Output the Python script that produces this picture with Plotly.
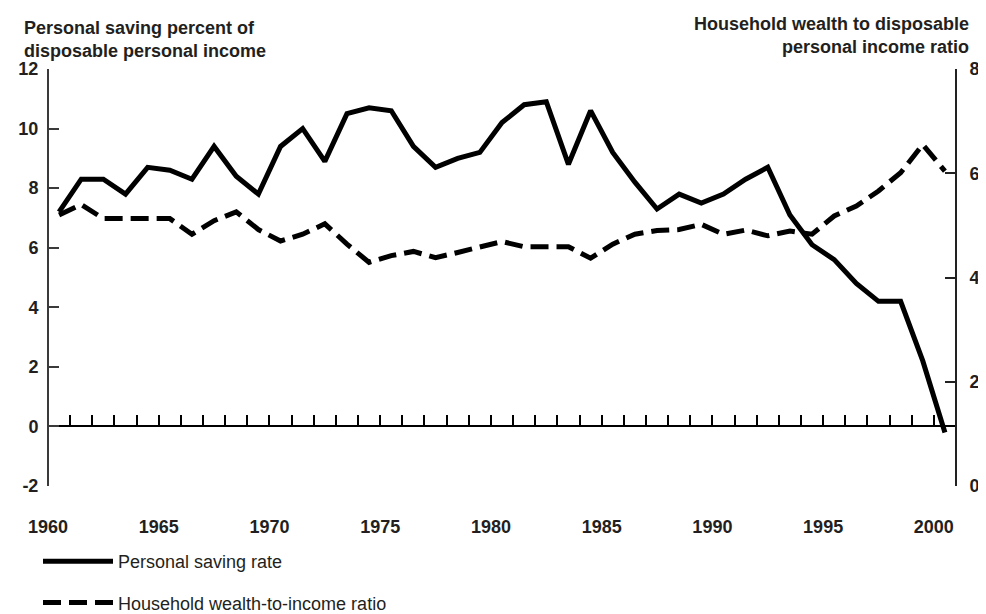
import numpy as np
import plotly.graph_objects as go

years = list(range(1960, 2001))
saving_rate = [7.2, 8.3, 8.3, 7.8, 8.7, 8.6, 8.3, 9.4, 8.4, 7.8,
               9.4, 10.0, 8.9, 10.5, 10.7, 10.6, 9.4, 8.7, 9.0, 9.2,
               10.2, 10.8, 10.9, 8.8, 10.6, 9.2, 8.2, 7.3, 7.8, 7.5,
               7.8, 8.3, 8.7, 7.1, 6.1, 5.6, 4.8, 4.2, 4.2, 2.2, -0.2]
wealth_ratio = [5.2, 5.4, 5.13, 5.13, 5.13, 5.13, 4.83, 5.09, 5.26, 4.92,
                4.70, 4.83, 5.03, 4.64, 4.29, 4.42, 4.50, 4.38, 4.48, 4.59,
                4.69, 4.59, 4.59, 4.59, 4.37, 4.64, 4.83, 4.90, 4.92, 5.02,
                4.83, 4.91, 4.80, 4.89, 4.83, 5.18, 5.37, 5.66, 6.01, 6.55, 6.04]
year_labels = [1960, 1965, 1970, 1975, 1980, 1985, 1990, 1995, 2000]
left_ticks = [-2, 0, 2, 4, 6, 8, 10, 12]
left_tick_text = ['-2', '0', '2', '4', '6', '8', '10', '12']
right_ticks = [0, 2, 4, 6, 8]

W, H = 986, 614
ML, MR, MT, MB = 40, 38, 61, 136
TXT = '#231f20'
FONT = 'Liberation Sans, Arial, sans-serif'

x_mid = np.array(years) + 0.5  # annual values plotted at mid-year

fig = go.Figure()
fig.add_trace(go.Scatter(x=x_mid, y=saving_rate, mode='lines', name='Personal saving rate',
                         line=dict(color='black', width=5), legendgroup='a',
                         xaxis='x', yaxis='y'))
fig.add_trace(go.Scatter(x=x_mid, y=wealth_ratio, mode='lines', name='Household wealth-to-income ratio',
                         line=dict(color='black', width=5, dash='18px,8px'), legendgroup='b',
                         xaxis='x2', yaxis='y2'))

xr = [1960, 2001]
fig.update_layout(
    width=W, height=H,
    margin=dict(l=ML, r=MR, t=MT, b=MB, autoexpand=False),
    paper_bgcolor='white', plot_bgcolor='white',
    font=dict(family=FONT, color=TXT, size=18),
    showlegend=True,
    legend=dict(xref='container', yref='container', x=30 / W, y=1 - 535 / H,
                xanchor='left', yanchor='top', font=dict(size=18, color=TXT),
                itemwidth=70, tracegroupgap=15, bgcolor='rgba(0,0,0,0)'),
    # zero line with yearly ticks
    xaxis=dict(range=xr, anchor='free', position=2 / 14, side='bottom',
               showgrid=False, zeroline=False, showline=True, linecolor='black', linewidth=2,
               ticks='inside', ticklen=10, tickwidth=1.5, tickcolor='black',
               tick0=1960, dtick=1, showticklabels=False),
    # year labels along the bottom
    xaxis2=dict(range=xr, overlaying='x', anchor='y2', side='bottom',
                showgrid=False, zeroline=False, showline=False,
                tickvals=year_labels, ticks='outside', ticklen=24, tickcolor='rgba(0,0,0,0)',
                tickfont=dict(size=18, weight='bold', color=TXT)),
    yaxis=dict(range=[-2, 12], tickvals=left_ticks, ticktext=left_tick_text,
               anchor='free', position=0, side='left',
               showgrid=False, zeroline=False,
               showline=True, linecolor='#3a3a3a', linewidth=2,
               ticks='inside', ticklen=10, tickwidth=1.5, tickcolor='#3a3a3a',
               ticklabelstandoff=5,
               tickfont=dict(size=18, weight='bold', color=TXT)),
    yaxis2=dict(range=[0, 8], tickvals=right_ticks, overlaying='y', side='right',
                anchor='free', position=1,
                showgrid=False, zeroline=False, showline=True, linecolor='#222', linewidth=2,
                ticks='inside', ticklen=10, tickwidth=1.5, tickcolor='#222',
                ticklabelstandoff=9,
                tickfont=dict(size=18, weight='bold', color=TXT)),
    annotations=[
        dict(text='<b>Personal saving percent of<br>disposable personal income</b>',
             xref='paper', yref='paper', x=(14 - ML) / (W - ML - MR), y=1 + (MT - 8) / (H - MT - MB),
             xanchor='left', yanchor='top', align='left', showarrow=False,
             font=dict(size=18, color=TXT)),
        dict(text='<b>Household wealth to disposable<br>personal income ratio</b>',
             xref='paper', yref='paper', x=(963 - ML) / (W - ML - MR), y=1 + (MT - 4) / (H - MT - MB),
             xanchor='right', yanchor='top', align='right', showarrow=False,
             font=dict(size=18, color=TXT)),
    ],
)

fig.write_html('out.html')
